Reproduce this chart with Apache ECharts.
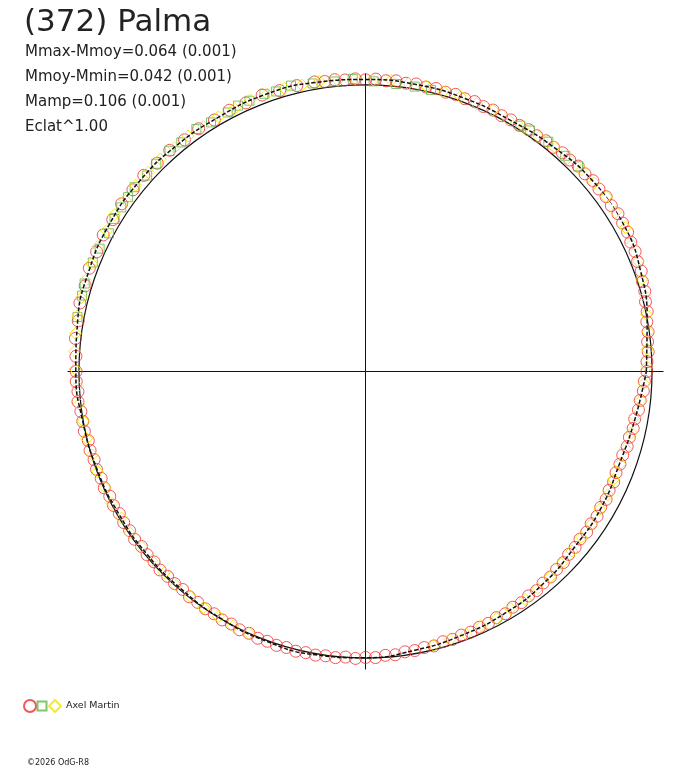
<!DOCTYPE html>
<html>
<head>
<meta charset="utf-8">
<title>(372) Palma</title>
<script src="https://cdn.jsdelivr.net/npm/echarts@6/dist/echarts.min.js"></script>
<style>
  html, body { margin: 0; padding: 0; background: #fff; }
  #chart { width: 688px; height: 768px; }
</style>
</head>
<body>
<div id="chart"></div>
<script>
// phase in degrees (0 = east, counter-clockwise), flux relative to mean (circle = 1)
var fitPhase = [0, 10, 20, 30, 40, 50, 60, 70, 80, 90, 100, 110, 120, 130, 140, 150, 160, 170, 180,
                190, 200, 210, 220, 230, 240, 250, 260, 270, 280, 290, 300, 310, 320, 330, 340, 350, 360];
var fitFlux = [0.980, 0.998, 1.022, 1.037, 1.035, 1.022, 1.012, 1.014, 1.017, 1.019, 1.024, 1.028, 1.025,
               1.028, 1.031, 1.031, 1.027, 1.020, 1.011, 1.002, 0.997, 0.994, 0.994, 0.995, 0.999, 1.003,
               1.004, 0.999, 0.988, 0.980, 0.974, 0.966, 0.953, 0.950, 0.943, 0.955, 0.980];

// observations: [phase, flux]
var redObs = [
  [0, 0.982], [2, 0.983], [4, 0.989], [6, 0.990], [8, 0.996], [10, 0.997], [12, 1.005], [14, 1.007],
  [16, 1.014], [18, 1.016], [20, 1.024], [22, 1.024], [24, 1.030], [26, 1.030], [28, 1.036], [30, 1.036],
  [32, 1.039], [34, 1.035], [36, 1.038], [38, 1.034], [40, 1.036], [42, 1.031], [44, 1.032], [46, 1.026],
  [48, 1.027], [50, 1.021], [52, 1.022], [54, 1.017], [56, 1.018], [58, 1.013], [60, 1.014], [62, 1.011],
  [64, 1.015], [66, 1.012], [68, 1.016], [70, 1.013], [72, 1.017], [74, 1.014], [76, 1.018], [78, 1.015],
  [80, 1.019], [82, 1.016], [84, 1.020], [86, 1.017], [88, 1.021], [90, 1.018], [92, 1.022], [94, 1.020],
  [96, 1.024], [98, 1.022], [100, 1.026],
  [103.5, 1.026], [107, 1.025], [110.5, 1.030], [114, 1.026], [117.5, 1.028], [121, 1.024], [124.5, 1.028],
  [128, 1.026], [131.5, 1.031], [135, 1.028], [138.5, 1.033], [142, 1.030], [145.5, 1.033], [149, 1.029],
  [152.5, 1.032], [156, 1.027], [159.5, 1.029], [163, 1.023], [166.5, 1.025], [170, 1.018], [173.5, 1.019],
  [177, 1.012],
  [180, 1.010], [182, 1.010], [184, 1.006], [186, 1.009], [188, 1.003], [190, 1.002], [192, 1.003], [194, 0.997],
  [196, 1.000], [198, 0.996], [200, 0.999], [202, 0.995], [204, 0.998], [206, 0.993], [208, 0.996], [210, 0.992],
  [212, 0.995], [214, 0.993], [216, 0.996], [218, 0.992], [220, 0.995], [222, 0.993], [224, 0.997], [226, 0.994],
  [228, 0.996], [230, 0.993], [232, 0.998], [234, 0.996], [236, 0.999], [238, 0.997], [240, 1.001], [242, 0.998],
  [244, 1.003], [246, 1.000], [248, 1.004], [250, 1.002], [252, 1.005], [254, 1.002], [256, 1.006], [258, 1.003],
  [260, 1.005], [262, 1.002], [264, 1.004], [266, 0.999], [268, 1.002], [270, 0.998], [272, 0.999], [274, 0.993],
  [276, 0.994], [278, 0.988], [280, 0.989], [282, 0.985], [284, 0.987], [286, 0.981], [288, 0.983], [290, 0.979],
  [292, 0.981], [294, 0.977], [296, 0.978], [298, 0.973], [300, 0.976], [302, 0.970], [304, 0.973], [306, 0.968],
  [308, 0.970], [310, 0.964], [312, 0.965], [314, 0.960], [316, 0.960], [318, 0.954], [320, 0.955], [322, 0.950],
  [324, 0.954], [326, 0.950], [328, 0.953], [330, 0.948], [332, 0.951], [334, 0.946], [336, 0.948], [338, 0.943],
  [340, 0.945], [342, 0.944], [344, 0.950], [346, 0.949], [348, 0.955], [350, 0.954], [352, 0.962], [354, 0.964],
  [356, 0.972], [358, 0.974]
];

var greenObs = [
  [44, 1.031], [47.2, 1.026], [51.5, 1.025], [55.7, 1.018], [57.8, 1.014], [76.9, 1.009], [80.2, 1.009],
  [83.9, 1.009], [88.4, 1.013], [92.5, 1.022], [96.1, 1.018], [100.4, 1.022], [104.6, 1.031], [107.7, 1.026],
  [110, 1.031], [113.2, 1.028], [115.6, 1.029], [118, 1.024], [121.8, 1.023], [124.9, 1.032], [128.8, 1.026],
  [131.6, 1.030], [135.2, 1.029], [138.1, 1.024], [141.4, 1.031], [143.7, 1.028], [146.1, 1.027], [148.7, 1.025],
  [151.7, 1.017], [155.2, 1.022], [158.2, 1.025], [162.6, 1.027], [165, 1.024], [169.3, 1.023]
];

var yellowObs = [
  [1, 0.983], [4.5, 0.986], [8, 0.996], [11.5, 1.000], [15, 1.012], [18.5, 1.016], [22, 1.027], [25.5, 1.029],
  [29, 1.037], [32.5, 1.035], [36, 1.038], [39.5, 1.034], [43, 1.033], [46.5, 1.025], [50, 1.024], [53.5, 1.017],
  [57, 1.016], [60.5, 1.011], [64, 1.015], [67.5, 1.012], [71, 1.016], [74.5, 1.014], [78, 1.018], [81.5, 1.016],
  [85, 1.020], [88.5, 1.017], [92, 1.022], [95.5, 1.021], [99, 1.025], [102.5, 1.024], [106, 1.028], [109.5, 1.027],
  [113, 1.029], [116.5, 1.025], [120, 1.027], [123.5, 1.025], [127, 1.029], [130.5, 1.027], [134, 1.031],
  [137.5, 1.029], [141, 1.033], [144.5, 1.030], [148, 1.033], [151.5, 1.029], [155, 1.031], [158.5, 1.027],
  [162, 1.028], [165.5, 1.025], [169, 1.023], [172.5, 1.020], [176, 1.018], [179.5, 1.014], [183, 1.007],
  [186.5, 1.006], [190, 1.000], [193.5, 1.001], [197, 0.997], [200.5, 0.998], [204, 0.995], [207.5, 0.997],
  [211, 0.993], [214.5, 0.996], [218, 0.993], [221.5, 0.996], [225, 0.994], [228.5, 0.997], [232, 0.995],
  [235.5, 0.999], [239, 0.997], [242.5, 1.002], [246, 1.000],
  [284, 0.986], [287.5, 0.981], [291, 0.981], [294.5, 0.976], [298, 0.976], [301.5, 0.971], [305, 0.971],
  [308.5, 0.966], [312, 0.964], [315.5, 0.957], [319, 0.955], [322.5, 0.950], [326, 0.952], [329.5, 0.949],
  [333, 0.949], [336.5, 0.944], [340, 0.945], [343.5, 0.946], [347, 0.953], [350.5, 0.955], [354, 0.967],
  [357.5, 0.973]
];

var infoLines = ['Mmax-Mmoy=0.064 (0.001)', 'Mmoy-Mmin=0.042 (0.001)', 'Mamp=0.106 (0.001)', 'Eclat^1.00'];

var FONT = 'DejaVu Sans';
var RED = '#ee2f2f', GREEN = '#5fb548', YELLOW = '#f0e400';

function toPolar(obs) {
  return obs.map(function (p) { return [p[1], p[0]]; });
}

var fitData = fitPhase.map(function (a, i) { return [fitFlux[i], a]; });

var option = {
  animation: false,
  backgroundColor: '#fff',
  title: [{
    text: '(372) Palma',
    left: 24, top: 7, padding: 0,
    textStyle: { fontFamily: FONT, fontSize: 31, lineHeight: 31, fontWeight: 'normal', color: '#222' }
  }, {
    text: infoLines.join('\n'),
    left: 25, top: 40, padding: 0,
    textStyle: { fontFamily: FONT, fontSize: 15, lineHeight: 25, fontWeight: 'normal', color: '#222' }
  }, {
    text: '©2026 OdG-R8',
    left: 27, top: 759, padding: 0,
    textStyle: { fontFamily: FONT, fontSize: 8, lineHeight: 8, fontWeight: 'normal', color: '#222' }
  }],
  legend: [{
    data: [{ name: 'Axel Martin 1', icon: 'circle' }],
    left: 23, top: 699, padding: 0, itemWidth: 12, itemHeight: 12,
    selectedMode: false, formatter: function () { return ''; }
  }, {
    data: [{ name: 'Axel Martin 2', icon: 'rect' }],
    left: 36.5, top: 700.5, padding: 0, itemWidth: 9, itemHeight: 9,
    selectedMode: false, formatter: function () { return ''; }
  }, {
    data: [{ name: 'Axel Martin', icon: 'diamond' }],
    left: 48, top: 699, padding: 0, itemWidth: 12, itemHeight: 12,
    selectedMode: false,
    textStyle: { fontFamily: FONT, fontSize: 9.5, color: '#222' }
  }],
  polar: { center: [365.5, 371.5], radius: 298 },
  angleAxis: {
    type: 'value', min: 0, max: 360, interval: 90,
    startAngle: 0, clockwise: false,
    axisLine: { show: false }, axisTick: { show: false }, axisLabel: { show: false },
    splitLine: { show: true, lineStyle: { color: '#111', width: 1 } }
  },
  radiusAxis: {
    type: 'value', min: 0, max: 1.04, interval: 1,
    axisLine: { show: false }, axisTick: { show: false }, axisLabel: { show: false },
    splitLine: { show: true, lineStyle: { color: ['rgba(0,0,0,0)', '#111', 'rgba(0,0,0,0)'], width: 1.2 } }
  },
  series: [{
    name: 'Axel Martin 1',
    type: 'scatter', coordinateSystem: 'polar',
    symbol: 'circle', symbolSize: 12,
    itemStyle: { color: 'rgba(0,0,0,0)', borderColor: RED, borderWidth: 1 },
    data: toPolar(redObs)
  }, {
    name: 'Axel Martin 2',
    type: 'scatter', coordinateSystem: 'polar',
    symbol: 'rect', symbolSize: 9,
    itemStyle: { color: 'rgba(0,0,0,0)', borderColor: GREEN, borderWidth: 1 },
    data: toPolar(greenObs)
  }, {
    name: 'Axel Martin',
    type: 'scatter', coordinateSystem: 'polar',
    symbol: 'diamond', symbolSize: 12,
    itemStyle: { color: 'rgba(0,0,0,0)', borderColor: YELLOW, borderWidth: 1 },
    data: toPolar(yellowObs)
  }, {
    name: 'fit',
    type: 'line', coordinateSystem: 'polar',
    smooth: true, symbol: 'none', silent: true,
    lineStyle: { color: '#111', width: 1.5, type: [4, 2] },
    data: fitData
  }]
};

var myChart = echarts.init(document.getElementById('chart'));
myChart.setOption(option);
</script>
</body>
</html>
